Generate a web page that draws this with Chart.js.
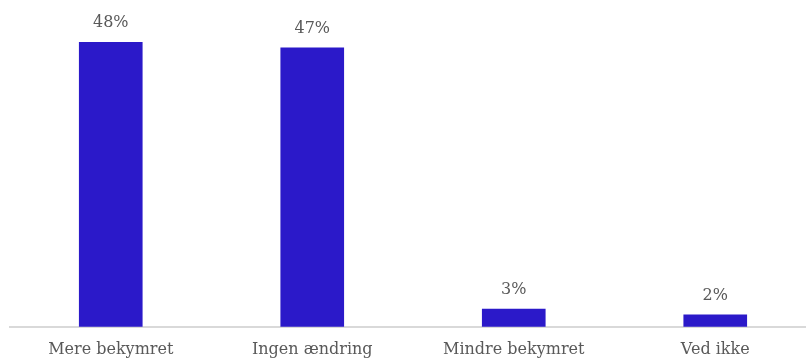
<!DOCTYPE html>
<html>
<head>
<meta charset="utf-8">
<script src="https://cdn.jsdelivr.net/npm/chart.js@4/dist/chart.umd.min.js"></script>
<style>
	html, body { margin: 0; padding: 0; background: #fff; overflow: hidden; }
	#wrap { position: relative; width: 816px; height: 358px; }
</style>
</head>
<body>
<div id="wrap"><canvas id="chartBekymring"></canvas></div>
<script>
const kategorier = ['Mere bekymret', 'Ingen ændring', 'Mindre bekymret', 'Ved ikke']
const andele = [48, 47, 3, 2]

// skriver procenten over hver søjle
const vaerdiEtiketter = {
	id: 'vaerdiEtiketter',
	afterDatasetsDraw(chart) {
		const { ctx } = chart
		const meta = chart.getDatasetMeta(0)
		ctx.save()
		ctx.font = '16px "DejaVu Serif"'
		ctx.fillStyle = '#595959'
		ctx.textAlign = 'center'
		ctx.textBaseline = 'bottom'
		meta.data.forEach((bar, i) => {
			ctx.fillText(andele[i] + '%', bar.x, bar.y - 11)
		})
		ctx.restore()
	},
}

const ctx = document.getElementById('chartBekymring').getContext('2d')
new Chart(ctx, {
	type: 'bar',
	data: {
		labels: kategorier,
		datasets: [
			{
				data: andele,
				backgroundColor: '#2b19c9',
				barThickness: 63,
			},
		],
	},
	options: {
		responsive: true,
		maintainAspectRatio: false,
		animation: false,
		layout: { padding: { left: 10, right: 0, top: 42, bottom: -6 } },
		scales: {
			x: {
				grid: { display: false },
				border: { color: '#d9d9d9', width: 2 },
				ticks: {
					color: '#595959',
					font: { family: 'DejaVu Serif', size: 16 },
					padding: 5,
					maxRotation: 0,
				},
			},
			y: {
				display: false,
				min: 0,
				max: 48,
			},
		},
		plugins: {
			legend: { display: false },
			tooltip: { enabled: false },
		},
	},
	plugins: [vaerdiEtiketter],
})
</script>
</body>
</html>
